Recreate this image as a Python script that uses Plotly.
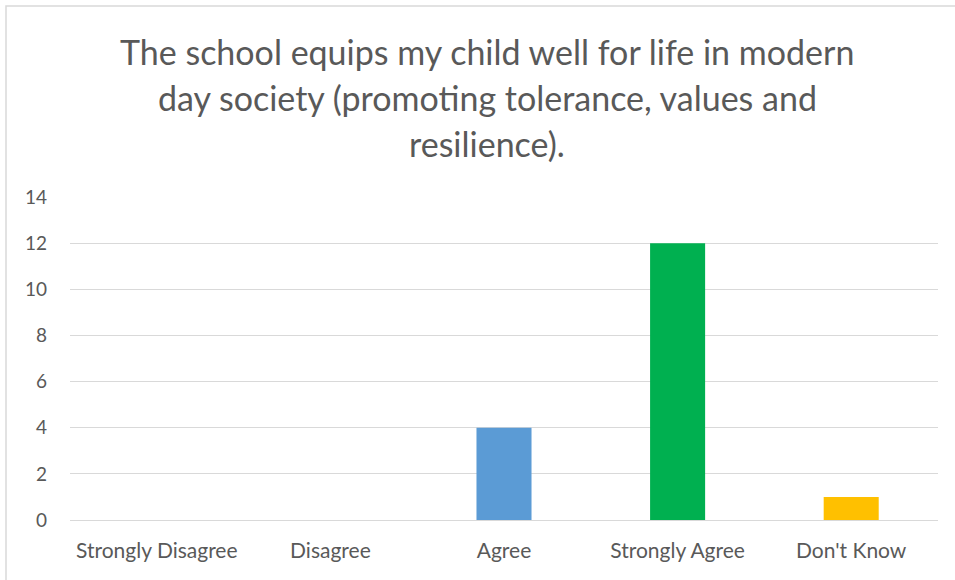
import plotly.graph_objects as go

categories = ["Strongly Disagree", "Disagree", "Agree", "Strongly Agree", "Don't Know"]
values = [0, 0, 4, 12, 1]
bar_colors = ["#5B9BD5", "#5B9BD5", "#5B9BD5", "#00B050", "#FFC000"]
title_lines = [
    "The school equips my child well for life in modern",
    "day society (promoting tolerance, values and",
    "resilience).",
]
y_ticks = [0, 2, 4, 6, 8, 10, 12, 14]

W, H = 955, 580
L, R, T, B = 70, 17, 197, 60
pw, ph = W - L - R, H - T - B

def px_x(px):
    return (px - L) / pw

def px_y(py):
    return (H - B - py) / ph

FONT = "Lato"
GREY = "#595959"

fig = go.Figure(go.Bar(
    x=categories, y=values, marker=dict(color=bar_colors, line=dict(width=0)),
    hoverinfo="x+y",
))

annotations = []
for i, line in enumerate(title_lines):
    annotations.append(dict(
        text=line, xref="paper", yref="paper",
        x=px_x(487), y=px_y(51 + 46 * i), xanchor="center", yanchor="middle",
        showarrow=False, font=dict(family=FONT, size=34, color=GREY),
    ))

fig.update_layout(
    width=W, height=H,
    margin=dict(l=L, r=R, t=T, b=B),
    paper_bgcolor="white", plot_bgcolor="white",
    bargap=0.683,
    showlegend=False,
    annotations=annotations,
    shapes=[dict(
        type="rect", xref="paper", yref="paper",
        x0=px_x(6), x1=px_x(962), y0=px_y(586), y1=px_y(6),
        line=dict(color="#D9D9D9", width=1.5), fillcolor="rgba(0,0,0,0)", layer="below",
    )],
    xaxis=dict(
        showgrid=False, zeroline=False, showline=False, ticks="",
        tickfont=dict(family=FONT, size=21, color=GREY), ticklabelstandoff=16,
    ),
    yaxis=dict(
        range=[0, 14], tickvals=y_ticks, showgrid=True, gridcolor="#D9D9D9", gridwidth=1,
        zeroline=True, zerolinecolor="#D9D9D9", zerolinewidth=1, showline=False, ticks="",
        tickfont=dict(family=FONT, size=19, color=GREY), ticklabelstandoff=22,
    ),
)

fig.write_html(
    "out.html",
    config={"displayModeBar": False},
    post_script="document.body.style.margin='0';document.body.style.overflow='hidden';",
)
